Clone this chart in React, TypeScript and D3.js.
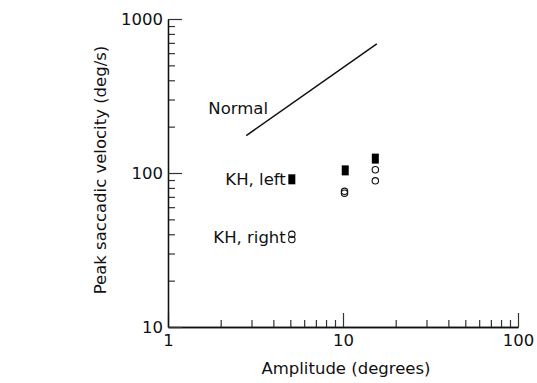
import * as d3 from 'd3';
import React, { useEffect, useRef } from 'react';

// Normal main sequence (line)
const normalAmp = [2.8, 15.6];
const normalVel = [175, 690];

// KH, left eye (filled squares)
const leftAmp = [5.1, 10.3, 15.3];
const leftVel = [91, 104, 124];

// KH, right eye (open circles)
const rightAmp = [5.1, 5.1, 10.2, 10.2, 15.3, 15.3];
const rightVel = [40, 37, 76, 74, 105, 89];

const xMajor = [1, 10, 100];
const yMajor = [10, 100, 1000];

const FONT = 'DejaVu Sans';
const FS = 16.5;

export default function App() {
  const svgRef = useRef<SVGSVGElement>(null);
  const width = 537;
  const height = 383;

  useEffect(() => {
    const svg = d3.select(svgRef.current);
    svg.selectAll('*').remove();

    const x = d3.scaleLog().domain([1, 100]).range([168, 518]);
    const y = d3.scaleLog().domain([10, 1000]).range([327, 19]);

    const minorX = x.ticks().filter((d) => !xMajor.includes(d));
    const minorY = y.ticks().filter((d) => !yMajor.includes(d));

    // Eixo X
    const gx = svg.append('g').attr('transform', `translate(0,${y(10)})`);
    gx.call(d3.axisBottom(x).tickValues(minorX).tickSizeInner(-7).tickSizeOuter(0).tickFormat(() => ''));
    const gx2 = svg.append('g').attr('transform', `translate(0,${y(10)})`);
    gx2.call(d3.axisBottom(x).tickValues(xMajor).tickSizeInner(-14).tickSizeOuter(0).tickPadding(7).tickFormat(d3.format('d')));

    // Eixo Y
    const gy = svg.append('g').attr('transform', `translate(${x(1)},0)`);
    gy.call(d3.axisLeft(y).tickValues(minorY).tickSizeInner(-7).tickSizeOuter(0).tickFormat(() => ''));
    const gy2 = svg.append('g').attr('transform', `translate(${x(1)},0)`);
    gy2.call(d3.axisLeft(y).tickValues(yMajor).tickSizeInner(-14).tickSizeOuter(0).tickPadding(5).tickFormat(d3.format('d')));

    svg.selectAll('.domain').attr('stroke', '#111').attr('stroke-width', 1.3);
    svg.selectAll('.tick line').attr('stroke', '#333').attr('stroke-width', 1.2);
    svg.selectAll('.tick text').attr('font-family', FONT).attr('font-size', FS).attr('fill', '#111');

    // Titles
    svg
      .append('text')
      .attr('x', 346)
      .attr('y', 374)
      .attr('text-anchor', 'middle')
      .attr('font-family', FONT)
      .attr('font-size', FS)
      .attr('fill', '#111')
      .text('Amplitude (degrees)');
    svg
      .append('text')
      .attr('transform', 'translate(106,170) rotate(-90)')
      .attr('text-anchor', 'middle')
      .attr('font-family', FONT)
      .attr('font-size', FS)
      .attr('fill', '#111')
      .text('Peak saccadic velocity (deg/s)');

    // Normal line
    const line = d3
      .line<number>()
      .x((d) => x(normalAmp[d]))
      .y((d) => y(normalVel[d]));
    svg
      .append('path')
      .attr('d', line(d3.range(normalAmp.length)))
      .attr('fill', 'none')
      .attr('stroke', '#111')
      .attr('stroke-width', 1.5);

    // KH left squares
    svg
      .append('g')
      .selectAll('rect')
      .data(leftAmp)
      .enter()
      .append('rect')
      .attr('x', (d) => x(d) - 3.5)
      .attr('y', (d, i) => y(leftVel[i]) - 5)
      .attr('width', 7)
      .attr('height', 10)
      .attr('fill', '#000');

    // KH right circles
    svg
      .append('g')
      .selectAll('circle')
      .data(rightAmp)
      .enter()
      .append('circle')
      .attr('cx', (d) => x(d))
      .attr('cy', (d, i) => y(rightVel[i]))
      .attr('r', 3.2)
      .attr('fill', 'none')
      .attr('stroke', '#111')
      .attr('stroke-width', 1.1);

    // Labels
    const label = (tx: number, ty: number, anchor: string, t: string) =>
      svg
        .append('text')
        .attr('x', tx)
        .attr('y', ty)
        .attr('text-anchor', anchor)
        .attr('font-family', FONT)
        .attr('font-size', FS)
        .attr('fill', '#111')
        .text(t);
    label(x(1.7), y(240), 'start', 'Normal');
    label(x(leftAmp[0]) - 6, y(leftVel[0]) + 6, 'end', 'KH, left');
    label(x(rightAmp[0]) - 6, y(38.5) + 6, 'end', 'KH, right');
  }, []);

  return (
    <svg
      ref={svgRef}
      width={width}
      height={height}
      style={{ position: 'absolute', left: 0, top: 0, background: '#fff' }}
    ></svg>
  );
}
